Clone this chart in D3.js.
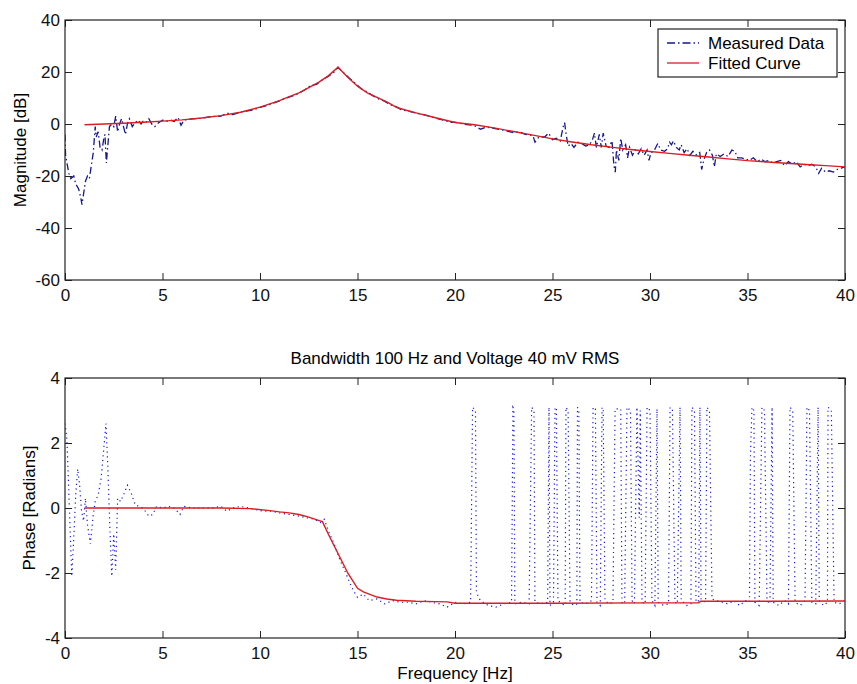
<!DOCTYPE html>
<html>
<head>
<meta charset="utf-8">
<title>Magnitude and Phase</title>
<script src="https://d3js.org/d3.v7.min.js"></script>
<style>
  body { margin: 0; background: #fff; }
  svg { display: block; }
  text { font-family: "Liberation Sans", Arial, sans-serif; }
  .line { fill: none; }
</style>
</head>
<body>
<div id="chart"></div>
<script>
// ---- data ----
var xTicks = [0, 5, 10, 15, 20, 25, 30, 35, 40];
var magTicks = [-60, -40, -20, 0, 20, 40];
var phaseTicks = [-4, -2, 0, 2, 4];

var legendLabels = ["Measured Data", "Fitted Curve"];
var titleText = "Bandwidth 100 Hz and Voltage 40 mV RMS";

// [frequency Hz, magnitude dB]
var magMeasured = [
  [0,-4],[0.03,-12],[0.1,-15],[0.2,-19],[0.3,-21],[0.45,-20],[0.55,-23],[0.7,-25],[0.8,-28],[0.87,-31],
  [0.95,-27],[1.05,-22],[1.15,-20],[1.25,-21],[1.35,-16],[1.45,-11],[1.55,-1],[1.6,-5],[1.7,-3],[1.8,-9],
  [1.9,-10],[2.0,-5],[2.05,-4],[2.12,-15],[2.2,-8],[2.28,-1],[2.4,0],[2.5,-1],[2.6,3],[2.7,-3],
  [2.8,0],[2.9,2],[3.0,-1],[3.1,-4],[3.2,0],[3.3,2],[3.45,-1],[3.6,0.5],[3.75,1.5],[3.9,0],
  [4.0,1],[4.15,0.5],[4.3,2],[4.45,0],[4.6,-1],[4.8,0.5],[5.0,1.5],[5.2,1],[5.4,1.5],[5.6,1],
  [5.8,2.5],[5.95,-0.5],[6.1,1.5],[6.3,1.7],[6.5,2.0],[7.0,2.2],[7.5,2.9],[8.0,3.0],[8.3,4.2],[8.6,3.6],
  [9.0,4.6],[9.3,5.0],[9.6,5.3],[10.0,6.4],[10.3,7.0],[10.6,7.8],[11.0,8.9],[11.3,9.9],[11.6,10.6],[12.0,11.8],
  [12.3,13.2],[12.6,14.8],[12.9,15.2],[13.2,17.0],[13.5,18.3],[13.8,20.0],[14.0,21.8],[14.1,21.0],[14.3,19.6],[14.6,17.5],
  [14.9,15.6],[15.2,13.5],[15.5,12.3],[15.8,10.8],[16.1,9.6],[16.4,8.7],[16.7,7.4],[17.0,6.6],[17.3,5.3],[17.6,5.0],
  [18.0,4.2],[18.5,3.4],[19.0,2.3],[19.5,1.3],[19.8,0.6],[20.0,0.7],[20.5,-0.1],[21.0,-0.6],[21.3,-2.0],[21.6,-1.2],
  [22.0,-1.7],[22.5,-2.4],[23.0,-3.3],[23.3,-3.0],[23.6,-4.0],[24.0,-4.5],[24.1,-7.0],[24.3,-5.0],[24.6,-5.0],[24.8,-3.5],
  [25.0,-6.0],[25.2,-5.5],[25.4,-6.5],[25.55,-1],[25.62,0.5],[25.7,-4],[25.8,-8.5],[25.95,-7.5],[26.1,-9],[26.3,-7],
  [26.5,-7.5],[26.7,-8.5],[26.9,-8],[27.05,-6],[27.15,-3.5],[27.25,-9],[27.4,-4],[27.5,-9],[27.6,-3.5],[27.75,-8.5],
  [27.9,-9],[28.05,-6.5],[28.15,-16],[28.22,-18.5],[28.28,-10],[28.4,-14],[28.5,-5.5],[28.6,-10],[28.75,-8],[28.85,-13],
  [28.95,-9],[29.1,-12],[29.25,-10],[29.4,-11.5],[29.55,-9.5],[29.7,-12],[29.85,-10],[29.95,-14],[30.05,-11],[30.2,-10.5],
  [30.4,-7.5],[30.55,-10],[30.75,-10.5],[30.9,-9.5],[31.0,-7],[31.1,-8],[31.2,-6.5],[31.35,-9],[31.5,-10],[31.6,-8],
  [31.75,-11],[31.9,-9.5],[32.05,-12],[32.2,-10.5],[32.4,-12],[32.55,-11],[32.65,-17.5],[32.75,-14],[32.9,-11],[33.05,-10],
  [33.2,-12],[33.3,-16.5],[33.4,-11.5],[33.6,-12.5],[33.8,-11.5],[34.0,-12.5],[34.2,-10],[34.35,-10.5],[34.5,-13],[34.7,-13],
  [34.9,-13.5],[35.1,-14],[35.3,-13],[35.5,-14.5],[35.7,-13.5],[35.9,-14.5],[36.1,-14],[36.3,-15],[36.5,-14.5],[36.7,-14],
  [36.9,-16],[37.1,-14.5],[37.3,-15.5],[37.5,-14.5],[37.7,-16.5],[37.9,-15.5],[38.1,-16],[38.3,-15.5],[38.5,-16.5],[38.65,-19],
  [38.8,-17],[39.0,-18.5],[39.2,-18],[39.4,-18.5],[39.6,-17.5],[39.8,-17],[40,-16.5]
];

var magFitted = [
  [1,-0.3],[2,0.0],[3,0.3],[4,0.7],[5,1.1],[6,1.6],[7,2.3],[8,3.2],[9,4.5],[10,6.5],
  [11,9.0],[11.5,10.5],[12,12.0],[12.5,14.0],[13,16.0],[13.5,18.5],[14,21.8],[14.5,18.0],[15,14.5],[15.5,12.0],
  [16,10.2],[16.5,8.5],[17,6.4],[17.5,5.3],[18,4.3],[19,2.4],[20,0.6],[21,-0.3],[22,-1.5],[23,-2.9],
  [24,-4.3],[25,-5.7],[26,-6.9],[27,-8.0],[28,-8.9],[29,-9.8],[30,-10.6],[31,-11.3],[32,-12.0],[33,-12.7],
  [34,-13.4],[35,-14.1],[36,-14.6],[37,-15.1],[38,-15.6],[39,-16.0],[40,-16.5]
];

// [frequency Hz, phase rad]
var phaseMeasured = [
  [0,2.6],[0.1,2.1],[0.2,0.4],[0.3,-1.3],[0.35,-2.1],[0.45,-0.9],[0.55,0.4],[0.65,1.2],[0.75,0.7],[0.85,-0.1],
  [0.95,-0.4],[1.05,0.3],[1.15,-0.5],[1.3,-1.1],[1.45,-0.2],[1.55,0.2],[1.7,0.4],[1.85,0.9],[2.0,1.9],[2.1,2.6],
  [2.2,1.2],[2.3,-0.6],[2.4,-2.1],[2.5,-0.8],[2.6,-1.9],[2.7,0.3],[2.85,0.2],[3.0,0.4],[3.2,0.7],[3.4,0.45],
  [3.6,0.1],[3.8,0.05],[4.0,0.0],[4.3,-0.25],[4.5,-0.2],[4.7,0.05],[5.0,0.0],[5.3,0.05],[5.6,0.0],[5.9,-0.2],
  [6.1,0.05],[6.5,0.0],[7.0,0.0],[7.5,0.0],[8.0,0.05],[8.3,-0.1],[8.6,0.0],[9.0,0.05],[9.4,0.0],[9.8,-0.05],
  [10.2,-0.1],[10.6,-0.1],[11.0,-0.15],[11.5,-0.2],[12.0,-0.25],[12.4,-0.3],[12.8,-0.35],[13.1,-0.45],[13.3,-0.35],[13.5,-0.7],
  [13.8,-1.1],[14.1,-1.6],[14.4,-2.0],[14.6,-2.3],[14.8,-2.55],[15.0,-2.75],[15.3,-2.65],[15.6,-2.85],[16.0,-2.8],[16.4,-2.95],
  [16.8,-2.85],[17.2,-2.9],[17.6,-2.9],[18.0,-2.95],[18.4,-2.85],[18.8,-2.9],[19.2,-2.95],[19.6,-3.05],[20.0,-2.9],[20.4,-2.95],
  [20.8,-2.9],[20.9,3.1],[21.05,3.0],[21.1,-2.6],[21.3,-2.85],[21.7,-3.0],[22.1,-3.05],[22.5,-2.95],[22.9,-2.9],[22.97,3.1],
  [23.02,3.05],[23.07,-2.95],[23.4,-2.9],[23.8,-2.95],[23.93,3.1],[24.05,3.0],[24.1,-2.9],[24.4,-2.95],[24.75,-2.9],[24.82,3.1],
  [24.87,-3.0],[25.05,-2.9],[25.13,3.1],[25.2,3.05],[25.28,-2.85],[25.5,-2.95],[25.65,-3.0],[25.69,3.1],[25.8,3.0],[25.9,-2.9],
  [26.1,-3.0],[26.25,-2.95],[26.28,3.1],[26.35,3.0],[26.41,-2.9],[26.7,-2.95],[27.0,-2.85],[27.08,3.1],[27.2,3.05],[27.28,-2.9],
  [27.45,-3.0],[27.54,3.1],[27.6,3.0],[27.69,-2.85],[27.9,-2.95],[28.1,-2.9],[28.21,3.05],[28.5,3.05],[28.56,-2.9],[28.7,-2.95],
  [28.82,3.1],[29.0,3.0],[29.08,-2.85],[29.2,-2.95],[29.33,3.1],[29.45,-0.3],[29.5,3.0],[29.59,-2.9],[29.75,-2.95],[29.85,3.1],
  [30.0,3.0],[30.1,-2.85],[30.25,-3.0],[30.36,3.05],[30.42,-2.9],[30.7,-3.0],[30.95,-2.95],[31.03,3.1],[31.15,3.0],[31.28,-2.9],
  [31.4,-2.95],[31.54,3.1],[31.6,-2.85],[31.9,-3.0],[32.1,-2.95],[32.15,3.1],[32.28,3.0],[32.36,-2.9],[32.5,-2.85],[32.56,3.1],
  [32.62,-2.8],[32.85,-2.9],[32.92,3.1],[33.05,3.0],[33.18,-2.8],[33.4,-2.85],[33.7,-2.9],[34.0,-2.95],[34.3,-2.85],[34.6,-3.0],
  [34.9,-2.85],[35.1,-2.9],[35.15,1.6],[35.23,3.1],[35.33,3.0],[35.38,-2.9],[35.6,-3.0],[35.74,3.1],[35.87,3.0],[36.0,-2.85],
  [36.15,-2.95],[36.26,3.1],[36.32,-2.9],[36.6,-3.0],[36.9,-2.85],[37.1,-2.95],[37.18,3.1],[37.32,3.0],[37.44,-2.9],[37.7,-3.0],
  [37.95,-2.85],[38.05,3.1],[38.18,3.0],[38.3,-2.9],[38.5,-2.95],[38.62,3.1],[38.68,-2.85],[38.9,-3.0],[39.1,-2.9],[39.13,3.1],
  [39.3,3.0],[39.44,-2.9],[39.7,-2.95],[40.0,-2.85]
];

var phaseFitted = [
  [1,0],[2,0],[4,0],[6,0],[8,0],[9.5,-0.02],[10.5,-0.08],[11,-0.12],[11.5,-0.15],[12,-0.2],
  [12.5,-0.28],[13,-0.38],[13.2,-0.42],[13.5,-0.8],[14,-1.4],[14.5,-2.0],[15,-2.47],[15.3,-2.58],[16,-2.74],[16.5,-2.8],
  [17,-2.84],[18,-2.87],[19,-2.88],[19.6,-2.89],[20,-2.93],[25,-2.93],[30,-2.92],[32.5,-2.92],[32.6,-2.87],[36,-2.87],
  [40,-2.86]
];

// ---- layout ----
var W = 857, H = 684;
var left = 65, right = 845;
var top1 = 20, bot1 = 280;
var top2 = 378, bot2 = 638;
var fontSize = 17;
var tick = 7;
var navy = "#16168e", blue = "#1a1ad8", red = "#dc1c22";

var svg = d3.select("#chart").append("svg")
    .attr("width", W)
    .attr("height", H);

svg.append("rect").attr("width", W).attr("height", H).attr("fill", "#fff");

var x = d3.scaleLinear().domain([0, 40]).range([left, right]);
var yMag = d3.scaleLinear().domain([-60, 40]).range([bot1, top1]);
var yPh = d3.scaleLinear().domain([-4, 4]).range([bot2, top2]);

// plain hyphen for negatives, like the original
var fmt = function (d) { return String(d); };

function drawPanel(id, y, yTicks, yTop, yBot) {
    var g = svg.append("g");

    g.append("clipPath").attr("id", id)
        .append("rect")
        .attr("x", left).attr("y", yTop)
        .attr("width", right - left).attr("height", yBot - yTop);

    // bottom axis with labels, ticks pointing inward
    var xa = g.append("g")
        .attr("transform", "translate(0," + yBot + ")")
        .call(d3.axisBottom(x).tickValues(xTicks).tickFormat(fmt).tickSizeInner(-tick).tickSizeOuter(0).tickPadding(9));
    // top axis, ticks only
    var xt = g.append("g")
        .attr("transform", "translate(0," + yTop + ")")
        .call(d3.axisTop(x).tickValues(xTicks).tickSizeInner(-tick).tickSizeOuter(0).tickFormat(""));
    var ya = g.append("g")
        .attr("transform", "translate(" + left + ",0)")
        .call(d3.axisLeft(y).tickValues(yTicks).tickFormat(fmt).tickSizeInner(-tick).tickSizeOuter(0).tickPadding(5));
    var yr = g.append("g")
        .attr("transform", "translate(" + right + ",0)")
        .call(d3.axisRight(y).tickValues(yTicks).tickSizeInner(-tick).tickSizeOuter(0).tickFormat(""));

    [xa, xt, ya, yr].forEach(function (a) {
        a.select(".domain").remove();
        a.selectAll("line").attr("stroke", "#222");
        a.selectAll("text")
            .attr("fill", "#111")
            .style("font-size", fontSize + "px")
            .style("font-family", "'Liberation Sans', Arial, sans-serif");
    });

    g.append("rect")
        .attr("x", left).attr("y", yTop)
        .attr("width", right - left).attr("height", yBot - yTop)
        .attr("fill", "none").attr("stroke", "#222").attr("stroke-width", 1.2);

    return g;
}

var p1 = drawPanel("clip1", yMag, magTicks, top1, bot1);
var p2 = drawPanel("clip2", yPh, phaseTicks, top2, bot2);

var magLine = d3.line()
    .x(function (d) { return x(d[0]); })
    .y(function (d) { return yMag(d[1]); });
var phLine = d3.line()
    .x(function (d) { return x(d[0]); })
    .y(function (d) { return yPh(d[1]); });

// magnitude
p1.append("path").datum(magMeasured)
    .attr("class", "line")
    .attr("clip-path", "url(#clip1)")
    .attr("d", magLine)
    .attr("stroke", navy).attr("stroke-width", 1.3)
    .attr("stroke-dasharray", "7,3,1.5,3");
p1.append("path").datum(magFitted)
    .attr("class", "line")
    .attr("clip-path", "url(#clip1)")
    .attr("d", magLine)
    .attr("stroke", red).attr("stroke-width", 1.4);

// phase
p2.append("path").datum(phaseMeasured)
    .attr("class", "line")
    .attr("clip-path", "url(#clip2)")
    .attr("d", phLine)
    .attr("stroke", blue).attr("stroke-width", 1.2)
    .attr("stroke-dasharray", "1.2,3.5");
p2.append("path").datum(phaseFitted)
    .attr("class", "line")
    .attr("clip-path", "url(#clip2)")
    .attr("d", phLine)
    .attr("stroke", red).attr("stroke-width", 1.4);

// axis labels and title
svg.append("text")
    .attr("transform", "translate(26," + ((top1 + bot1) / 2) + ") rotate(-90)")
    .attr("text-anchor", "middle")
    .style("font-size", fontSize + "px")
    .text("Magnitude [dB]");
svg.append("text")
    .attr("transform", "translate(35," + ((top2 + bot2) / 2) + ") rotate(-90)")
    .attr("text-anchor", "middle")
    .style("font-size", fontSize + "px")
    .text("Phase [Radians]");
svg.append("text")
    .attr("x", (left + right) / 2).attr("y", 364)
    .attr("text-anchor", "middle")
    .style("font-size", fontSize + "px")
    .text(titleText);
svg.append("text")
    .attr("x", (left + right) / 2).attr("y", 679)
    .attr("text-anchor", "middle")
    .style("font-size", fontSize + "px")
    .text("Frequency [Hz]");

// legend
var lg = svg.append("g");
lg.append("rect")
    .attr("x", 658).attr("y", 29).attr("width", 179).attr("height", 48)
    .attr("fill", "#fff").attr("stroke", "#222").attr("stroke-width", 1.2);
var legStyles = [
    { stroke: navy, dash: "8,3,1.5,3" },
    { stroke: red, dash: null }
];
legendLabels.forEach(function (lab, i) {
    var ly = 43 + i * 20;
    lg.append("line")
        .attr("x1", 667).attr("x2", 699).attr("y1", ly).attr("y2", ly)
        .attr("stroke", legStyles[i].stroke).attr("stroke-width", 1.3)
        .attr("stroke-dasharray", legStyles[i].dash);
    lg.append("text")
        .attr("x", 708).attr("y", ly + 6)
        .style("font-size", fontSize + "px")
        .text(lab);
});
</script>
</body>
</html>
